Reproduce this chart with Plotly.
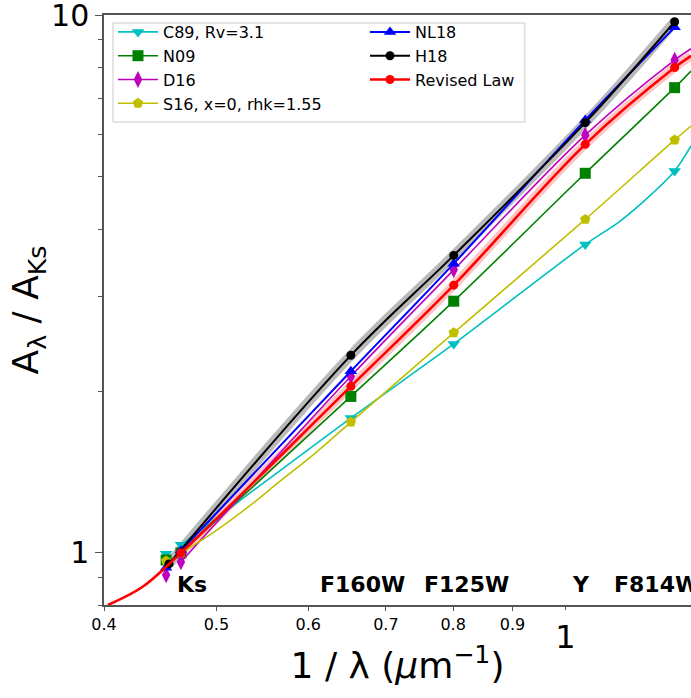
import numpy as np
import plotly.graph_objects as go

# ---------------- data ----------------
filter_names = ["Ks", "F160W", "F125W", "Y", "F814W"]
x_filters = [0.466, 0.653, 0.801, 1.040, 1.242]      # 1/lambda (um^-1)
x_ks_alt = 0.4525                                    # second Ks point
x_edge = 1.283                                       # where the curves leave the frame

law_names = ["C89, Rv=3.1", "N09", "D16", "S16, x=0, rhk=1.55", "NL18", "H18", "Revised Law"]

c89_y = [1.035, 1.781, 2.446, 3.746, 5.13]
c89_ks_alt = 0.996
c89_edge = 5.71
c89_extra_x = [1.114, 1.189]
c89_extra_y = [4.136, 4.665]

n09_y = [1.0, 1.954, 2.938, 5.08, 7.33]
n09_ks_alt = 0.97
n09_edge = 7.87

d16_y = [0.962, 2.13, 3.36, 5.98, 8.25]
d16_ks_alt = 0.91
d16_edge = 8.66

s16_y = [1.0, 1.751, 2.566, 4.17, 5.86]
s16_ks_alt = 0.966
s16_edge = 6.22
s16_extra_x = [0.4968, 0.531, 0.5671, 0.6059]
s16_extra_y = [1.091, 1.211, 1.358, 1.522]

nl18_y = [1.01, 2.177, 3.45, 6.38, 9.49]
nl18_ks_alt = 0.938

h18_x = [0.4551, 0.653, 0.801, 1.040, 1.242]
h18_y = [0.954, 2.33, 3.574, 6.31, 9.72]

rev_y = [1.0, 2.04, 3.147, 5.75, 7.99]
rev_edge = 8.40
rev_extra_x = [0.403, 0.4316]
rev_extra_y = [0.80, 0.864]

x_small_ticks = [0.4, 0.5, 0.6, 0.7, 0.8, 0.9]
x_big_ticks = [1]
y_ticks = [1, 10]
y_minor_ticks = [0.8, 0.9, 2, 3, 4, 5, 6, 7, 8, 9]

# ---------------- helpers ----------------
def sorted_curve(xs, ys):
    pairs = sorted(zip(xs, ys))
    return [p[0] for p in pairs], [p[1] for p in pairs]

FONT = "DejaVu Sans"
AX = "#555555"

styles = {
    "C89, Rv=3.1": dict(color="#00BFBF", symbol="triangle-down", size=11, lw=1.6, sm=0.9),
    "N09": dict(color="#008000", symbol="square", size=11, lw=1.6, sm=1.0),
    "D16": dict(color="#BF00BF", symbol="diamond-tall", size=12, lw=1.6, sm=1.0),
    "S16, x=0, rhk=1.55": dict(color="#BFBF00", symbol="pentagon", size=11, lw=1.6, sm=1.0),
    "NL18": dict(color="#0000FF", symbol="triangle-up", size=11, lw=2.0, sm=1.0),
    "H18": dict(color="#000000", symbol="circle", size=9, lw=2.0, sm=1.0),
    "Revised Law": dict(color="#FF0000", symbol="circle", size=9, lw=2.6, sm=1.0),
}
legend_of = {"C89, Rv=3.1": "legend", "N09": "legend", "D16": "legend",
             "S16, x=0, rhk=1.55": "legend", "NL18": "legend2", "H18": "legend2",
             "Revised Law": "legend2"}

laws = {
    "C89, Rv=3.1": dict(mx=[x_ks_alt] + x_filters, my=[c89_ks_alt] + c89_y,
                        cx=x_filters + c89_extra_x + [x_edge],
                        cy=c89_y + c89_extra_y + [c89_edge]),
    "N09": dict(mx=[x_ks_alt] + x_filters, my=[n09_ks_alt] + n09_y,
                cx=x_filters + [x_edge], cy=n09_y + [n09_edge]),
    "D16": dict(mx=[x_ks_alt] + x_filters, my=[d16_ks_alt] + d16_y,
                cx=x_filters + [x_edge], cy=d16_y + [d16_edge]),
    "S16, x=0, rhk=1.55": dict(mx=[x_ks_alt] + x_filters, my=[s16_ks_alt] + s16_y,
                               cx=x_filters + s16_extra_x + [x_edge],
                               cy=s16_y + s16_extra_y + [s16_edge]),
    "NL18": dict(mx=[x_ks_alt] + x_filters, my=[nl18_ks_alt] + nl18_y,
                 cx=x_filters, cy=nl18_y),
    "H18": dict(mx=h18_x, my=h18_y, cx=h18_x, cy=h18_y),
    "Revised Law": dict(mx=x_filters, my=rev_y,
                        cx=rev_extra_x + x_filters + [x_edge],
                        cy=rev_extra_y + rev_y + [rev_edge]),
}

fig = go.Figure()

# uncertainty bands (drawn first)
hx, hy = sorted_curve(laws["H18"]["cx"], laws["H18"]["cy"])
fig.add_trace(go.Scatter(x=hx, y=hy, mode="lines", showlegend=False, hoverinfo="skip",
                         line=dict(color="rgba(140,140,140,0.6)", width=10, shape="spline", smoothing=1.0)))
rx, ry = sorted_curve(x_filters + [x_edge], rev_y + [rev_edge])
fig.add_trace(go.Scatter(x=rx, y=ry, mode="lines", showlegend=False, hoverinfo="skip",
                         line=dict(color="rgba(255,60,60,0.3)", width=9, shape="spline", smoothing=1.0)))

for name in law_names:
    st = styles[name]
    d = laws[name]
    cx, cy = sorted_curve(d["cx"], d["cy"])
    fig.add_trace(go.Scatter(x=cx, y=cy, mode="lines", showlegend=False, hoverinfo="skip",
                             line=dict(color=st["color"], width=st["lw"], shape="spline",
                                       smoothing=st["sm"])))
    fig.add_trace(go.Scatter(x=d["mx"], y=d["my"], mode="markers", showlegend=False, name=name,
                             marker=dict(color=st["color"], symbol=st["symbol"], size=st["size"],
                                         line=dict(width=0))))

# legend entries (line + marker), on the overlay axis
for name in law_names:
    st = styles[name]
    fig.add_trace(go.Scatter(x=[None], y=[None], mode="lines+markers", name=name,
                             xaxis="x2", legend=legend_of[name],
                             line=dict(color=st["color"], width=st["lw"]),
                             marker=dict(color=st["color"], symbol=st["symbol"], size=st["size"],
                                         line=dict(width=0))))

# legend frame
fig.add_shape(type="rect", xref="paper", yref="paper", x0=0.0153, x1=0.717, y0=0.8186, y1=0.9864,
              line=dict(color="#cccccc", width=1), fillcolor="rgba(255,255,255,0.85)", layer="below")

# filter labels
label_x = [0.4605, 0.6116, 0.752, 1.009, 1.096]
label_y = 0.872
for nm, lx in zip(filter_names, label_x):
    fig.add_annotation(x=np.log10(lx), y=np.log10(label_y), xref="x", yref="y",
                       text="<b>%s</b>" % nm, showarrow=False, xanchor="left", yanchor="middle",
                       font=dict(family=FONT, size=22, color="black"))

xr = [np.log10(0.4), np.log10(x_edge)]
leg_common = dict(orientation="v", xanchor="left", yanchor="top", bgcolor="rgba(0,0,0,0)",
                  borderwidth=0, font=dict(family=FONT, size=16, color="black"), itemwidth=40,
                  traceorder="normal")
fig.update_layout(
    width=691, height=698,
    margin=dict(l=104, r=0, t=15, b=93, autoexpand=False),
    paper_bgcolor="white", plot_bgcolor="white",
    font=dict(family=FONT, color="black"),
    showlegend=True,
    legend=dict(x=0.0153, y=1.0, **leg_common),
    legend2=dict(x=(365 - 104) / 587, y=1.0, **leg_common),
    xaxis=dict(type="log", range=xr, tickmode="array", tickvals=x_small_ticks,
               ticktext=[str(v) for v in x_small_ticks], automargin=False,
               tickfont=dict(family=FONT, size=16, color="black"),
               ticks="outside", ticklen=4, tickcolor=AX, showgrid=False, zeroline=False,
               showline=True, linecolor=AX, linewidth=1.5, mirror=True,
               title=dict(text="1 / λ (<i>µ</i>m<sup>−1</sup>)",
                          font=dict(family=FONT, size=36, color="black"), standoff=20)),
    xaxis2=dict(type="log", range=xr, overlaying="x", anchor="y", side="bottom",
                tickmode="array", tickvals=x_big_ticks, ticktext=[str(v) for v in x_big_ticks],
                tickfont=dict(family=FONT, size=32, color="black"), automargin=False,
                ticks="outside", ticklen=4, tickcolor=AX, showgrid=False, zeroline=False,
                showline=False),
    yaxis=dict(type="log", range=[np.log10(0.8), 1.0002], tickmode="array", tickvals=y_ticks,
               ticktext=[str(v) for v in y_ticks], automargin=False, ticklabeloverflow="allow",
               tickfont=dict(family=FONT, size=30, color="black"),
               ticks="outside", ticklen=7, tickcolor=AX, showgrid=False, zeroline=False,
               showline=True, linecolor=AX, linewidth=1.5, mirror=False,
               minor=dict(tickvals=y_minor_ticks, ticks="outside", ticklen=4, tickcolor=AX,
                          showgrid=False),
               title=dict(text="A<sub>λ</sub> / A<sub>Ks</sub>",
                          font=dict(family=FONT, size=36, color="black"), standoff=1)),
)

fig.write_html("out.html", config={"displayModeBar": False},
               post_script="document.body.style.margin='0';document.body.style.padding='0';")
